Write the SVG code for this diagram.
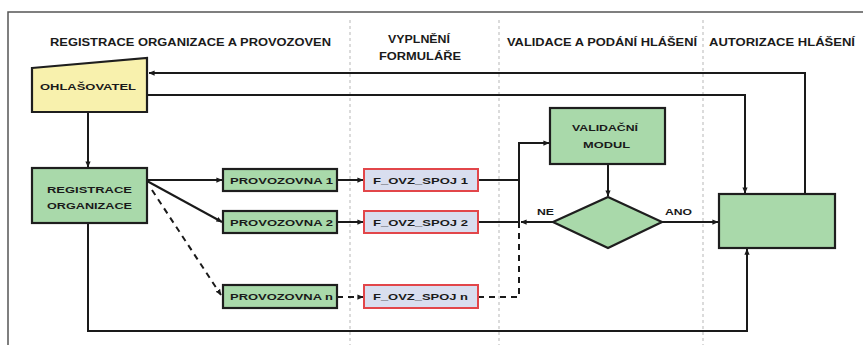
<svg xmlns="http://www.w3.org/2000/svg" width="863" height="345" viewBox="0 0 863 345">
  <defs>
    <marker id="arr" viewBox="0 0 8 8" refX="7.5" refY="4" markerWidth="6" markerHeight="6" markerUnits="userSpaceOnUse" orient="auto">
      <path d="M0,0.5 L8,4 L0,7.5 Z" fill="#1a1a1a"/>
    </marker>
  </defs>
  <style>
    text { font-family: "Liberation Sans", Arial, sans-serif; font-weight: bold; fill: #1a1a1a; }
    .hdr { font-size: 10px; }
    .lbl { font-size: 9px; text-anchor: middle; }
    .sep { stroke: #c4c4c4; stroke-width: 1.2; stroke-dasharray: 3 3; fill: none; }
    .frame { stroke: #555; stroke-width: 1.5; fill: none; }
    .green { fill: #a9d9aa; stroke: #1e1e1e; stroke-width: 2.2; }
    .yellow { fill: #f8f1ad; stroke: #1e1e1e; stroke-width: 2.2; }
    .form { fill: #d9deef; stroke: #e2464a; stroke-width: 2; }
    .ln { stroke: #1a1a1a; stroke-width: 2; fill: none; }
    .dash { stroke: #1a1a1a; stroke-width: 2; fill: none; stroke-dasharray: 6 5; }
  </style>

  <rect width="863" height="345" fill="#ffffff"/>

  <!-- frame -->
  <path class="frame" d="M8,345 V12 H863"/>

  <!-- swimlane separators -->
  <line class="sep" x1="350" y1="20" x2="350" y2="345"/>
  <line class="sep" x1="499" y1="20" x2="499" y2="345"/>
  <line class="sep" x1="703" y1="20" x2="703" y2="345"/>

  <!-- lane headers -->
  <g id="headers">
    <text class="hdr" x="50" y="46" textLength="281" lengthAdjust="spacingAndGlyphs">REGISTRACE ORGANIZACE A PROVOZOVEN</text>
    <text class="hdr" x="388" y="43" textLength="62" lengthAdjust="spacingAndGlyphs">VYPLNĚNÍ</text>
    <text class="hdr" x="379" y="60" textLength="82" lengthAdjust="spacingAndGlyphs">FORMULÁŘE</text>
    <text class="hdr" x="507" y="46" textLength="190" lengthAdjust="spacingAndGlyphs">VALIDACE A PODÁNÍ HLÁŠENÍ</text>
    <text class="hdr" x="709" y="46" textLength="146" lengthAdjust="spacingAndGlyphs">AUTORIZACE HLÁŠENÍ</text>
  </g>

  <!-- connectors -->
  <g id="connectors">
    <!-- authorization back to reporter -->
    <path class="ln" d="M805,194 V73 H149" marker-end="url(#arr)"/>
    <!-- reporter to authorization -->
    <path class="ln" d="M147,95 H745 V193" marker-end="url(#arr)"/>
    <!-- reporter to organization registration -->
    <path class="ln" d="M88,112 V167" marker-end="url(#arr)"/>
    <!-- organization registration to authorization -->
    <path class="ln" d="M88,223 V331 H747 V249" marker-end="url(#arr)"/>
    <!-- organization to establishments -->
    <path class="ln" d="M147,180 H222" marker-end="url(#arr)"/>
    <path class="ln" d="M147,181 L222,222" marker-end="url(#arr)"/>
    <path class="dash" d="M152,190 L221,295" marker-end="url(#arr)"/>
    <!-- establishments to forms -->
    <path class="ln" d="M337,180 H363" marker-end="url(#arr)"/>
    <path class="ln" d="M337,222 H363" marker-end="url(#arr)"/>
    <path class="dash" d="M337,297 H363" stroke-dasharray="4 4" marker-end="url(#arr)"/>
    <!-- forms to validation module -->
    <path class="ln" d="M478,180 H519"/>
    <path class="ln" d="M478,222 H519"/>
    <path class="dash" d="M478,297 H519 V226"/>
    <path class="ln" d="M519,226 V143 H549" marker-end="url(#arr)"/>
    <!-- validation module to decision -->
    <path class="ln" d="M608,164 V196" marker-end="url(#arr)"/>
    <!-- decision outcomes -->
    <path class="ln" d="M553,222 H521" marker-end="url(#arr)"/>
    <path class="ln" d="M662,222 H718" marker-end="url(#arr)"/>
    <text x="537" y="215" style="font-size:8.5px" textLength="17" lengthAdjust="spacingAndGlyphs">NE</text>
    <text x="665" y="215" style="font-size:8.5px" textLength="27" lengthAdjust="spacingAndGlyphs">ANO</text>
  </g>

  <!-- nodes -->
  <g id="ohlasovatel">
    <path class="yellow" d="M32,68 L147,58 V112 H32 Z"/>
    <text class="lbl" x="88" y="89.5" textLength="96" lengthAdjust="spacingAndGlyphs">OHLAŠOVATEL</text>
  </g>

  <g id="registrace-organizace">
    <rect class="green" x="32" y="168" width="115" height="55"/>
    <text class="lbl" x="89.5" y="192.5" textLength="85" lengthAdjust="spacingAndGlyphs">REGISTRACE</text>
    <text class="lbl" x="89.5" y="208.5" textLength="85" lengthAdjust="spacingAndGlyphs">ORGANIZACE</text>
  </g>

  <g id="provozovna-1">
    <rect class="green" x="223" y="169" width="114" height="22"/>
    <text class="lbl" x="281.5" y="183.5" textLength="103" lengthAdjust="spacingAndGlyphs">PROVOZOVNA 1</text>
  </g>
  <g id="provozovna-2">
    <rect class="green" x="223" y="211" width="114" height="22"/>
    <text class="lbl" x="281.5" y="225.5" textLength="103" lengthAdjust="spacingAndGlyphs">PROVOZOVNA 2</text>
  </g>
  <g id="provozovna-n">
    <rect class="green" x="223" y="285" width="114" height="23"/>
    <text class="lbl" x="281.5" y="300" textLength="103" lengthAdjust="spacingAndGlyphs">PROVOZOVNA n</text>
  </g>

  <g id="f-ovz-spoj-1">
    <rect class="form" x="364" y="169" width="114" height="22"/>
    <text class="lbl" x="420.5" y="183.5" textLength="95" lengthAdjust="spacingAndGlyphs">F_OVZ_SPOJ 1</text>
  </g>
  <g id="f-ovz-spoj-2">
    <rect class="form" x="364" y="211" width="114" height="22"/>
    <text class="lbl" x="420.5" y="225.5" textLength="95" lengthAdjust="spacingAndGlyphs">F_OVZ_SPOJ 2</text>
  </g>
  <g id="f-ovz-spoj-n">
    <rect class="form" x="364" y="285" width="114" height="23"/>
    <text class="lbl" x="420.5" y="300" textLength="95" lengthAdjust="spacingAndGlyphs">F_OVZ_SPOJ n</text>
  </g>

  <g id="validacni-modul">
    <rect class="green" x="550" y="108" width="115" height="56"/>
    <text class="lbl" x="605" y="131" textLength="66" lengthAdjust="spacingAndGlyphs">VALIDAČNÍ</text>
    <text class="lbl" x="606.5" y="148" textLength="47" lengthAdjust="spacingAndGlyphs">MODUL</text>
  </g>

  <g id="rozhodnuti">
    <path class="green" d="M608,197 L662,222 L608,248 L553,222 Z"/>
  </g>

  <g id="autorizace">
    <rect class="green" x="719" y="194" width="116" height="54"/>
  </g>
</svg>
